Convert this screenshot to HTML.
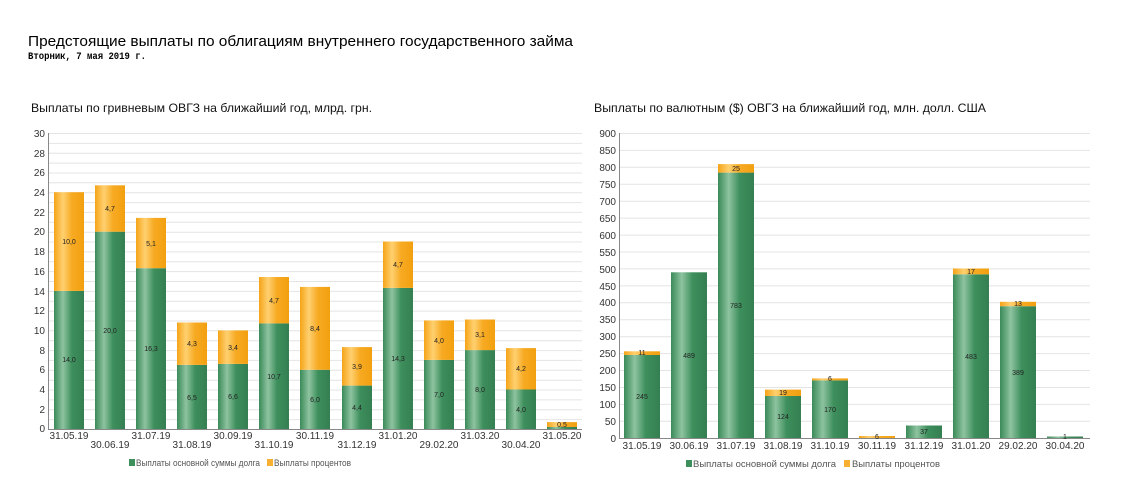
<!DOCTYPE html>
<html><head><meta charset="utf-8"><style>
body{margin:0;background:#fff;width:1140px;height:497px;overflow:hidden}
svg{font-family:"Liberation Sans",sans-serif}
</style></head><body>
<svg width="1140" height="497" viewBox="0 0 1140 497">
<defs>
<linearGradient id="g" x1="0" x2="1" y1="0" y2="0"><stop offset="0" stop-color="#3a8a58"/><stop offset="0.3" stop-color="#8ec3a0"/><stop offset="0.6" stop-color="#3d8f5c"/><stop offset="1" stop-color="#357f52"/></linearGradient>
<linearGradient id="o" x1="0" x2="1" y1="0" y2="0"><stop offset="0" stop-color="#f5a418"/><stop offset="0.3" stop-color="#ffd070"/><stop offset="0.6" stop-color="#f7aa22"/><stop offset="1" stop-color="#f2a010"/></linearGradient>
</defs>
<text x="28" y="46" font-size="15" fill="#000" textLength="545" lengthAdjust="spacingAndGlyphs">Предстоящие выплаты по облигациям внутреннего государственного займа</text>
<text x="28" y="59" font-size="10" font-family="Liberation Mono,monospace" font-weight="bold" fill="#000" textLength="118" lengthAdjust="spacingAndGlyphs">Вторник, 7 мая 2019 г.</text>
<text x="31" y="112" font-size="12" fill="#111" textLength="341" lengthAdjust="spacingAndGlyphs">Выплаты по гривневым ОВГЗ на ближайший год, млрд. грн.</text>
<text x="594" y="112" font-size="12" fill="#111" textLength="392" lengthAdjust="spacingAndGlyphs">Выплаты по валютным ($) ОВГЗ на ближайший год, млн. долл. США</text>

<g stroke="#e4e4e4" stroke-width="1">
<line x1="48" x2="582" y1="133.5" y2="133.5"/><line x1="48" x2="582" y1="143.4" y2="143.4"/><line x1="48" x2="582" y1="153.2" y2="153.2"/><line x1="48" x2="582" y1="163.1" y2="163.1"/><line x1="48" x2="582" y1="173" y2="173"/><line x1="48" x2="582" y1="182.8" y2="182.8"/><line x1="48" x2="582" y1="192.7" y2="192.7"/><line x1="48" x2="582" y1="202.6" y2="202.6"/><line x1="48" x2="582" y1="212.4" y2="212.4"/><line x1="48" x2="582" y1="222.3" y2="222.3"/><line x1="48" x2="582" y1="232.2" y2="232.2"/><line x1="48" x2="582" y1="242" y2="242"/><line x1="48" x2="582" y1="251.9" y2="251.9"/><line x1="48" x2="582" y1="261.8" y2="261.8"/><line x1="48" x2="582" y1="271.6" y2="271.6"/><line x1="48" x2="582" y1="281.5" y2="281.5"/><line x1="48" x2="582" y1="291.4" y2="291.4"/><line x1="48" x2="582" y1="301.2" y2="301.2"/><line x1="48" x2="582" y1="311.1" y2="311.1"/><line x1="48" x2="582" y1="321" y2="321"/><line x1="48" x2="582" y1="330.8" y2="330.8"/><line x1="48" x2="582" y1="340.7" y2="340.7"/><line x1="48" x2="582" y1="350.6" y2="350.6"/><line x1="48" x2="582" y1="360.4" y2="360.4"/><line x1="48" x2="582" y1="370.3" y2="370.3"/><line x1="48" x2="582" y1="380.2" y2="380.2"/><line x1="48" x2="582" y1="390" y2="390"/><line x1="48" x2="582" y1="399.9" y2="399.9"/><line x1="48" x2="582" y1="409.8" y2="409.8"/><line x1="48" x2="582" y1="419.6" y2="419.6"/>
</g>
<g font-size="10" fill="#333" text-anchor="end">
<text x="45" y="137">30</text><text x="45" y="157">28</text><text x="45" y="176">26</text><text x="45" y="196">24</text><text x="45" y="216">22</text><text x="45" y="235">20</text><text x="45" y="255">18</text><text x="45" y="275">16</text><text x="45" y="295">14</text><text x="45" y="314">12</text><text x="45" y="334">10</text><text x="45" y="354">8</text><text x="45" y="373">6</text><text x="45" y="393">4</text><text x="45" y="413">2</text><text x="45" y="432">0</text>
</g>
<g>
<rect x="54" y="290.9" width="30" height="138.1" fill="url(#g)"/><rect x="54" y="192.2" width="30" height="98.7" fill="url(#o)"/>
<rect x="95" y="231.7" width="30" height="197.3" fill="url(#g)"/><rect x="95" y="185.3" width="30" height="46.4" fill="url(#o)"/>
<rect x="136" y="268.2" width="30" height="160.8" fill="url(#g)"/><rect x="136" y="217.9" width="30" height="50.3" fill="url(#o)"/>
<rect x="177" y="364.9" width="30" height="64.1" fill="url(#g)"/><rect x="177" y="322.5" width="30" height="42.4" fill="url(#o)"/>
<rect x="218" y="363.9" width="30" height="65.1" fill="url(#g)"/><rect x="218" y="330.4" width="30" height="33.5" fill="url(#o)"/>
<rect x="259" y="323.4" width="30" height="105.6" fill="url(#g)"/><rect x="259" y="277" width="30" height="46.4" fill="url(#o)"/>
<rect x="300" y="369.8" width="30" height="59.2" fill="url(#g)"/><rect x="300" y="286.9" width="30" height="82.9" fill="url(#o)"/>
<rect x="342" y="385.6" width="30" height="43.4" fill="url(#g)"/><rect x="342" y="347.1" width="30" height="38.5" fill="url(#o)"/>
<rect x="383" y="287.9" width="30" height="141.1" fill="url(#g)"/><rect x="383" y="241.5" width="30" height="46.4" fill="url(#o)"/>
<rect x="424" y="359.9" width="30" height="69.1" fill="url(#g)"/><rect x="424" y="320.4" width="30" height="39.5" fill="url(#o)"/>
<rect x="465" y="350.1" width="30" height="78.9" fill="url(#g)"/><rect x="465" y="319.5" width="30" height="30.6" fill="url(#o)"/>
<rect x="506" y="389.5" width="30" height="39.5" fill="url(#g)"/><rect x="506" y="348.1" width="30" height="41.4" fill="url(#o)"/>
<rect x="547" y="427" width="30" height="2" fill="url(#g)"/><rect x="547" y="422.1" width="30" height="4.9" fill="url(#o)"/>
</g>
<line x1="48.5" x2="48.5" y1="133" y2="429" stroke="#888"/>
<line x1="48" x2="582" y1="429.5" y2="429.5" stroke="#888"/>
<g font-size="7" fill="#222" text-anchor="middle">
<text x="69" y="362">14,0</text><text x="69" y="244">10,0</text>
<text x="110" y="333">20,0</text><text x="110" y="211">4,7</text>
<text x="151" y="351">16,3</text><text x="151" y="246">5,1</text>
<text x="192" y="400">6,5</text><text x="192" y="346">4,3</text>
<text x="233" y="399">6,6</text><text x="233" y="350">3,4</text>
<text x="274" y="379">10,7</text><text x="274" y="303">4,7</text>
<text x="315" y="402">6,0</text><text x="315" y="331">8,4</text>
<text x="357" y="410">4,4</text><text x="357" y="369">3,9</text>
<text x="398" y="361">14,3</text><text x="398" y="267">4,7</text>
<text x="439" y="397">7,0</text><text x="439" y="343">4,0</text>
<text x="480" y="392">8,0</text><text x="480" y="337">3,1</text>
<text x="521" y="412">4,0</text><text x="521" y="371">4,2</text>
<text x="562" y="427">0,5</text>
</g>
<g font-size="10" fill="#333" text-anchor="middle">
<text x="69" y="439">31.05.19</text><text x="110" y="448">30.06.19</text><text x="151" y="439">31.07.19</text><text x="192" y="448">31.08.19</text><text x="233" y="439">30.09.19</text><text x="274" y="448">31.10.19</text><text x="315" y="439">30.11.19</text><text x="357" y="448">31.12.19</text><text x="398" y="439">31.01.20</text><text x="439" y="448">29.02.20</text><text x="480" y="439">31.03.20</text><text x="521" y="448">30.04.20</text><text x="562" y="439">31.05.20</text>
</g>
<g font-size="9" fill="#555">
<rect x="129" y="459" width="6" height="7" fill="#3d8f5c"/><text x="136" y="466" textLength="124" lengthAdjust="spacingAndGlyphs">Выплаты основной суммы долга</text>
<rect x="267" y="459" width="6" height="7" fill="#f7b032"/><text x="274" y="466" textLength="77" lengthAdjust="spacingAndGlyphs">Выплаты процентов</text>
</g>

<g stroke="#e4e4e4">
<line x1="619" x2="1090" y1="133.5" y2="133.5"/><line x1="619" x2="1090" y1="150.4" y2="150.4"/><line x1="619" x2="1090" y1="167.3" y2="167.3"/><line x1="619" x2="1090" y1="184.3" y2="184.3"/><line x1="619" x2="1090" y1="201.2" y2="201.2"/><line x1="619" x2="1090" y1="218.1" y2="218.1"/><line x1="619" x2="1090" y1="235.1" y2="235.1"/><line x1="619" x2="1090" y1="252" y2="252"/><line x1="619" x2="1090" y1="268.9" y2="268.9"/><line x1="619" x2="1090" y1="285.9" y2="285.9"/><line x1="619" x2="1090" y1="302.8" y2="302.8"/><line x1="619" x2="1090" y1="319.7" y2="319.7"/><line x1="619" x2="1090" y1="336.7" y2="336.7"/><line x1="619" x2="1090" y1="353.6" y2="353.6"/><line x1="619" x2="1090" y1="370.5" y2="370.5"/><line x1="619" x2="1090" y1="387.5" y2="387.5"/><line x1="619" x2="1090" y1="404.4" y2="404.4"/><line x1="619" x2="1090" y1="421.3" y2="421.3"/>
</g>
<g font-size="10" fill="#333" text-anchor="end">
<text x="616" y="137">900</text><text x="616" y="154">850</text><text x="616" y="171">800</text><text x="616" y="188">750</text><text x="616" y="205">700</text><text x="616" y="222">650</text><text x="616" y="239">600</text><text x="616" y="256">550</text><text x="616" y="273">500</text><text x="616" y="290">450</text><text x="616" y="306">400</text><text x="616" y="323">350</text><text x="616" y="340">300</text><text x="616" y="357">250</text><text x="616" y="374">200</text><text x="616" y="391">150</text><text x="616" y="408">100</text><text x="616" y="425">50</text><text x="616" y="442">0</text>
</g>
<g>
<rect x="624" y="355" width="36" height="83" fill="url(#g)"/><rect x="624" y="351.3" width="36" height="3.7" fill="url(#o)"/>
<rect x="671" y="272.3" width="36" height="165.7" fill="url(#g)"/>
<rect x="718" y="172.6" width="36" height="265.4" fill="url(#g)"/><rect x="718" y="164.1" width="36" height="8.5" fill="url(#o)"/>
<rect x="765" y="396" width="36" height="42" fill="url(#g)"/><rect x="765" y="389.6" width="36" height="6.4" fill="url(#o)"/>
<rect x="812" y="380.4" width="36" height="57.6" fill="url(#g)"/><rect x="812" y="378.4" width="36" height="2" fill="url(#o)"/>
<rect x="859" y="436" width="36" height="2" fill="url(#o)"/>
<rect x="906" y="425.5" width="36" height="12.5" fill="url(#g)"/>
<rect x="953" y="274.3" width="36" height="163.7" fill="url(#g)"/><rect x="953" y="268.5" width="36" height="5.8" fill="url(#o)"/>
<rect x="1000" y="306.2" width="36" height="131.8" fill="url(#g)"/><rect x="1000" y="301.8" width="36" height="4.4" fill="url(#o)"/>
<rect x="1047" y="436.5" width="36" height="1.5" fill="url(#g)"/>
</g>
<line x1="619.5" x2="619.5" y1="133" y2="438" stroke="#888"/>
<line x1="619" x2="1090" y1="438.5" y2="438.5" stroke="#888"/>
<g font-size="7" fill="#222" text-anchor="middle">
<text x="642" y="399">245</text><text x="642" y="355">11</text>
<text x="689" y="358">489</text>
<text x="736" y="308">783</text><text x="736" y="171">25</text>
<text x="783" y="419">124</text><text x="783" y="395">19</text>
<text x="830" y="412">170</text><text x="830" y="381">6</text>
<text x="877" y="439">6</text>
<text x="924" y="434">37</text>
<text x="971" y="359">483</text><text x="971" y="274">17</text>
<text x="1018" y="375">389</text><text x="1018" y="306">13</text>
<text x="1065" y="439">1</text>
</g>
<g font-size="10" fill="#333" text-anchor="middle">
<text x="642" y="449">31.05.19</text><text x="689" y="449">30.06.19</text><text x="736" y="449">31.07.19</text><text x="783" y="449">31.08.19</text><text x="830" y="449">31.10.19</text><text x="877" y="449">30.11.19</text><text x="924" y="449">31.12.19</text><text x="971" y="449">31.01.20</text><text x="1018" y="449">29.02.20</text><text x="1065" y="449">30.04.20</text>
</g>
<g font-size="9" fill="$555" style="fill:#555">
<rect x="686" y="460" width="6" height="7" fill="#3d8f5c"/><text x="693" y="467" textLength="143" lengthAdjust="spacingAndGlyphs">Выплаты основной суммы долга</text>
<rect x="844" y="460" width="6" height="7" fill="#f7b032"/><text x="852" y="467" textLength="88" lengthAdjust="spacingAndGlyphs">Выплаты процентов</text>
</g>
</svg>
</body></html>
